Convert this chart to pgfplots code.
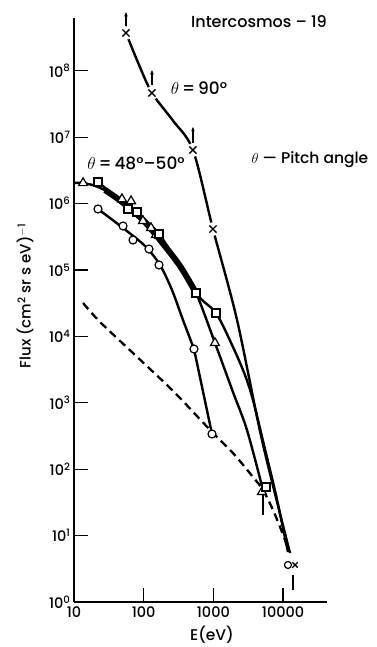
\documentclass[border=0pt]{standalone}
\usepackage{fontspec}
\setmainfont{Poppins Medium}
\usepackage{pgfplots}
\pgfplotsset{compat=1.18}
\usetikzlibrary{arrows.meta}

\begin{document}
\begin{tikzpicture}
\useasboundingbox (0,0) rectangle (376pt,647pt);
\begin{axis}[
  at={(74pt,45pt)}, anchor=south west,
  width=253pt, height=584pt, scale only axis,
  xmode=log, ymode=log,
  xmin=10, xmax=42660, ymin=1, ymax=6.24e8,
  axis lines=left,
  axis line style={-, line width=1.6pt},
  tick align=inside,
  major tick length=14pt,
  tick style={line width=1.2pt, black},
  minor tick style={draw=none},
  xtick={10,100,1000,10000},
  xticklabels={10,100,1000,10000},
  ytick={1,10,100,1000,1e4,1e5,1e6,1e7,1e8},
  yticklabels={10\textsuperscript{0},10\textsuperscript{1},10\textsuperscript{2},10\textsuperscript{3},10\textsuperscript{4},10\textsuperscript{5},10\textsuperscript{6},10\textsuperscript{7},10\textsuperscript{8}},
  tick label style={font=\fontsize{14.5}{16}\selectfont},
  xticklabel style={yshift=-1pt},
  clip=false,
]
% dashed reference curve
\addplot[black, line width=2.3pt, dash pattern=on 8pt off 5pt, smooth] coordinates {
 (13.5,3.18e4) (23.6,1.65e4) (70.2,5.62e3) (215.8,1.85e3) (354,1.10e3) (955,363)
 (1910,175) (3700,76.3) (5150,48.6) (7165,24.3) (9036,13.5) (11750,6.50)};

% theta = 90 deg curve
\addplot[black, line width=2.4pt, smooth] coordinates {
 (55.7,3.71e8) (85,1.25e8) (131.5,4.63e7) (260,1.8e7) (509,6.41e6) (986,4.14e5) (2183,1.77e4) (4977,275) (12560,5.47)};
\addplot[only marks, mark=*, mark size=6.5pt, white] coordinates {
 (55.7,3.71e8) (131.5,4.63e7) (509,6.41e6) (986,4.14e5)};
\addplot[only marks, mark=x, mark size=5pt, mark options={line width=1.4pt}, black] coordinates {
 (55.7,3.71e8) (131.5,4.63e7) (509,6.41e6) (986,4.14e5)};
% upper-limit arrows
\addplot[black, line width=1.2pt, -{Stealth[length=4.5pt,width=3.5pt]}] coordinates {(55.7,4.41e8) (55.7,7.69e8)};
\addplot[black, line width=1.2pt, -{Stealth[length=4.5pt,width=3.5pt]}] coordinates {(131.5,6.11e7) (131.5,1.03e8)};
\addplot[black, line width=1.2pt, -{Stealth[length=4.5pt,width=3.5pt]}] coordinates {(509,8.18e6) (509,1.43e7)};

% circle curve
\addplot[black, line width=2.4pt, smooth] coordinates {
 (22.1,8.29e5) (50.5,4.29e5) (104.4,2.30e5) (171.4,1.19e5) (254.5,5.00e4) (366,1.77e4) (527,6.46e3)};
\addplot[black, line width=2.4pt] coordinates {(527,6.46e3) (955,339)};

% triangle curve
\addplot[black, line width=2.4pt, smooth] coordinates {
 (10,2.04e6) (13.5,2.04e6) (22.1,1.78e6) (48.8,1.13e6) (97.7,5.47e5) (171.4,2.64e5)
 (331.8,1.07e5) (563,4.51e4) (1054,7.96e3) (1910,1.45e3) (3035,389) (5150,48.6)};
\addplot[black, line width=2.2pt] coordinates {(5150,48.6) (5150,20.4)};

% square curve
\addplot[black, line width=2.4pt, smooth] coordinates {
 (22.1,2.11e6) (59.6,8.89e5) (165.9,3.49e5) (563,4.51e4) (1089,2.25e4) (1910,6.92e3)
 (2838,2.62e3) (3700,1.10e3) (5321,231) (7906,40.9) (11750,5.66)};

% thick common band
\addplot[black, line width=6pt, smooth] coordinates {
 (27.9,1.60e6) (48.8,1.06e6) (97.7,5.66e5) (171.4,2.83e5) (331.8,1.15e5) (563,4.51e4)};

% markers
\addplot[only marks, mark=triangle*, mark size=5.2pt, mark options={fill=white, draw=black, line width=1.2pt}] coordinates {
 (13.5,2.04e6) (48.8,1.17e6) (65.8,1.09e6) (97.7,5.47e5) (127.3,4.29e5) (150.0,3.37e5) (1054,7.96e3) (4977,45.4)};
\addplot[only marks, mark=square*, mark size=4pt, mark options={fill=white, draw=black, line width=1.2pt}] coordinates {
 (22.1,2.11e6) (59.6,8.29e5) (80.1,7.47e5) (165.9,3.49e5) (563,4.51e4) (1089,2.25e4) (5690,53.9)};
\addplot[only marks, mark=*, mark size=4pt, mark options={fill=white, draw=black, line width=1.2pt}] coordinates {
 (22.1,8.29e5) (50.5,4.60e5) (70.2,2.83e5) (119.1,2.07e5) (165.9,1.19e5) (527,6.46e3) (955,339)};

% end points at about 12 keV
\addplot[only marks, mark=*, mark size=3.5pt, mark options={fill=white, draw=black, line width=1.2pt}] coordinates {(11750,3.61)};
\addplot[only marks, mark=x, mark size=3.8pt, mark options={line width=1.4pt}, black] coordinates {(14830,3.61)};
\addplot[black, line width=1.8pt] coordinates {(13870,2.55) (13870,1.52)};
\end{axis}

\node[font=\fontsize{16}{18}\selectfont] at (259pt,625pt) {Intercosmos -- 19};
\node[font=\fontsize{17}{19}\selectfont] at (199pt,559pt) {$\theta$\,=\,90°};
\node[font=\fontsize{17}{19}\selectfont] at (136pt,484pt) {$\theta$\,=\,48°–50°};
\node[font=\fontsize{15.5}{18}\selectfont] at (310pt,487pt) {$\theta$ — Pitch angle};
\node[rotate=90, font=\fontsize{15}{17}\selectfont] at (25pt,351pt) {Flux (cm\textsuperscript{2} sr s eV)\textsuperscript{$-$1}};
\node[font=\fontsize{15.5}{17}\selectfont] at (212pt,12pt) {E(eV)};
\end{tikzpicture}
\end{document}
